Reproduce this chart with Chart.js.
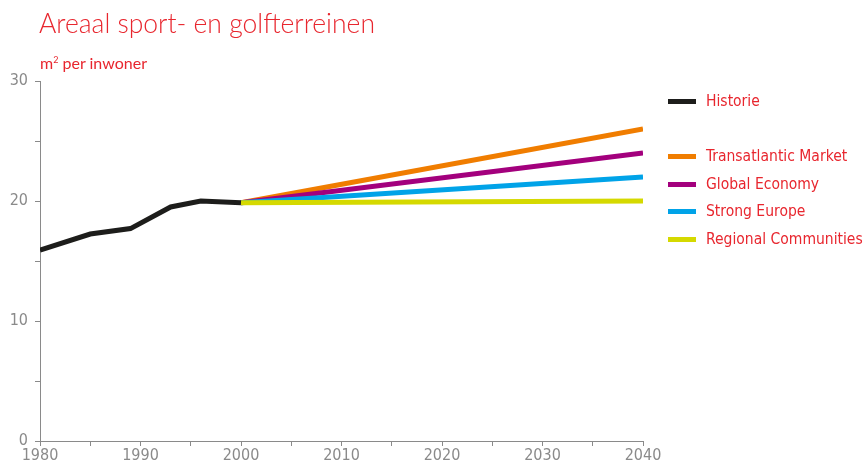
<!DOCTYPE html>
<html>
<head>
<meta charset="utf-8">
<script src="https://cdn.jsdelivr.net/npm/chart.js@4"></script>
<style>
  body { margin: 0; background: #fff; }
  #wrap { position: relative; width: 864px; height: 466px; }
  #titel { position: absolute; left: 39px; top: 7px; font: 300 26.5px Lato, "Open Sans", sans-serif; color: #e8262e; white-space: nowrap; }
  #eenheid { position: absolute; left: 40px; top: 53px; font: 16px Lato, "Open Sans", sans-serif; color: #e8262e; white-space: nowrap; }
  #eenheid sup { font-size: 9px; vertical-align: 6px; line-height: 0; }
  #legenda { position: absolute; left: 668px; top: 0; font: 15.5px "DejaVu Sans Condensed", sans-serif; color: #e8262e; }
  .rij { position: absolute; left: 0; white-space: nowrap; height: 20px; line-height: 20px; }
  .streep { position: absolute; left: 0; top: 8px; width: 28px; height: 5px; }
  .tekst { position: absolute; left: 38px; top: 0; }
</style>
</head>
<body>
<div id="wrap">
  <canvas id="grafiek" width="864" height="466"></canvas>
  <div id="titel">Areaal sport- en golfterreinen</div>
  <div id="eenheid">m<sup>2</sup> per inwoner</div>
  <div id="legenda"></div>
</div>
<script>
// historische reeks
const jarenHistorie = [1980, 1985, 1989, 1993, 1996, 2000];
const historie = [15.9, 17.25, 17.7, 19.5, 20.0, 19.85];

// scenario's 2000 - 2040
const jarenScenario = [2000, 2040];
const transatlantic = [19.85, 26];
const globalEconomy = [19.85, 24];
const strongEurope = [19.85, 22];
const regional = [19.85, 20];

const namen = ["Historie", "Transatlantic Market", "Global Economy", "Strong Europe", "Regional Communities"];
const kleuren = ["#1d1d1b", "#f07d00", "#a3007d", "#00a3e8", "#d5d900"];
const legendaY = [91, 146, 174, 201, 229];

function punten(jaren, waarden) {
  return jaren.map((j, i) => ({ x: j, y: waarden[i] }));
}

function lijn(idx, data, volgorde) {
  return {
    label: namen[idx],
    data: data,
    borderColor: kleuren[idx],
    backgroundColor: kleuren[idx],
    borderWidth: 5,
    pointRadius: 0,
    tension: 0,
    order: volgorde,
    borderCapStyle: "butt",
    borderJoinStyle: "miter"
  };
}

const grijs = "#8a8a8a";
const tickFont = { family: "'DejaVu Sans Condensed', sans-serif", size: 16 };

new Chart(document.getElementById("grafiek"), {
  type: "line",
  data: {
    datasets: [
      lijn(0, punten(jarenHistorie, historie), 0),
      lijn(4, punten(jarenScenario, regional), 1),
      lijn(3, punten(jarenScenario, strongEurope), 2),
      lijn(2, punten(jarenScenario, globalEconomy), 3),
      lijn(1, punten(jarenScenario, transatlantic), 4)
    ]
  },
  options: {
    responsive: false,
    animation: false,
    layout: { padding: { top: 81, right: 221, bottom: 0, left: 0 } },
    plugins: { legend: { display: false }, tooltip: { enabled: false } },
    scales: {
      x: {
        type: "linear",
        min: 1980,
        max: 2040,
        afterFit: (s) => { s.height = 25; },
        border: { color: grijs, width: 1 },
        grid: { drawOnChartArea: false, tickLength: 5, color: grijs },
        ticks: {
          stepSize: 5,
          autoSkip: false,
          maxRotation: 0,
          padding: 0,
          color: grijs,
          font: tickFont,
          callback: (v) => (v % 10 === 0 ? String(v) : "")
        }
      },
      y: {
        min: 0,
        max: 30,
        afterFit: (s) => { s.width = 40; },
        border: { color: grijs, width: 1 },
        grid: { drawOnChartArea: false, tickLength: 5, color: grijs },
        ticks: {
          stepSize: 5,
          padding: 7,
          color: grijs,
          font: tickFont,
          callback: (v) => (v % 10 === 0 ? String(v) : "")
        }
      }
    }
  }
});

// legenda
const legenda = document.getElementById("legenda");
namen.forEach((naam, i) => {
  const rij = document.createElement("div");
  rij.className = "rij";
  rij.style.top = legendaY[i] + "px";
  rij.innerHTML = '<span class="streep" style="background:' + kleuren[i] + '"></span><span class="tekst">' + naam + "</span>";
  legenda.appendChild(rij);
});
</script>
</body>
</html>
